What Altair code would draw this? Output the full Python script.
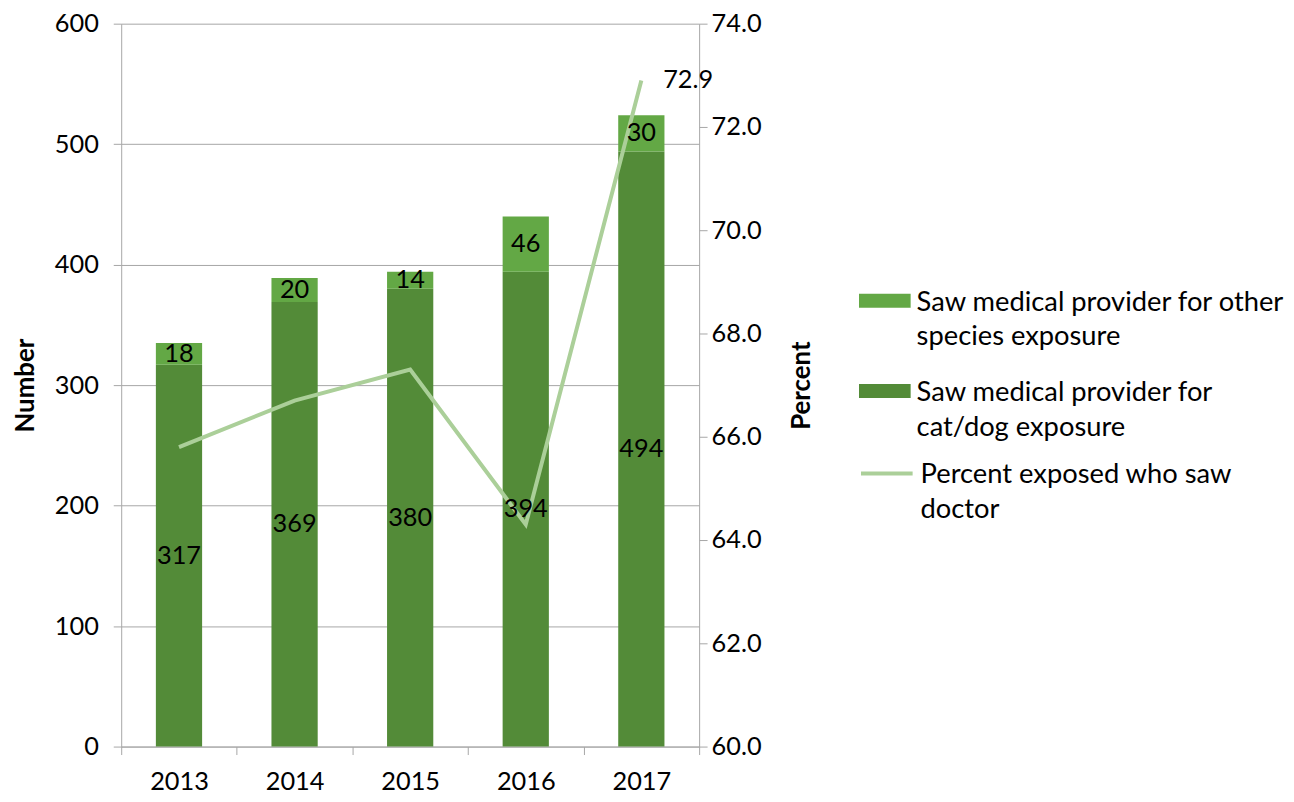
import altair as alt
import pandas as pd

years = ["2013", "2014", "2015", "2016", "2017"]
catdog = [317, 369, 380, 394, 494]
other = [18, 20, 14, 46, 30]
percent = [65.8, 66.7, 67.3, 64.3, 72.9]
pct_labels = ["", "", "", "", "72.9"]

S_OTHER = "Saw medical provider for other|species exposure"
S_CAT = "Saw medical provider for|cat/dog exposure"
S_LINE = "Percent exposed who saw|doctor"

DARK = "#538B38"
LIGHT = "#63A845"
LINEC = "#ABCF99"
GRID = "#A6A6A6"
FONT = "Lato"
FS = 25.5
LFS = 27.5
TFS = 26
SHIFT = 12  # vertical shift applied to guide labels (for legend alignment)

bars_df = pd.DataFrame({
    "year": years * 2,
    "series": [S_CAT] * 5 + [S_OTHER] * 5,
    "value": catdog + other,
    "ord": [0] * 5 + [1] * 5,
})
line_df = pd.DataFrame({"year": years, "pct": percent, "series": [S_LINE] * 5, "lab": pct_labels})

x = alt.X(
    "year:N",
    scale=alt.Scale(paddingInner=0, paddingOuter=0),
    axis=alt.Axis(title=None, labelAngle=0, tickBand="extent", tickSize=8, labelPadding=15 + SHIFT,
                  domainColor=GRID, tickColor=GRID, labelFont=FONT, labelFontSize=FS,
                  labelColor="black", grid=False),
)

base_bar = (
    alt.Chart(bars_df)
    .transform_stack(stack="value", groupby=["year"], as_=["v0", "v1"],
                     sort=[alt.SortField("ord", order="ascending")])
    .transform_calculate(mid="(datum.v0 + datum.v1) / 2")
)

bars = base_bar.mark_bar(width=alt.RelativeBandSize(0.4)).encode(
    x=x,
    y=alt.Y("v0:Q", scale=alt.Scale(domain=[0, 600], nice=False),
            axis=alt.Axis(title="Number", orient="left", values=[0, 100, 200, 300, 400, 500, 600],
                          grid=True, gridColor=GRID, domainColor=GRID, tickColor=GRID, tickSize=8,
                          labelPadding=15, labelOffset=SHIFT, labelFont=FONT, labelFontSize=FS,
                          labelColor="black",
                          titleFont=FONT, titleFontSize=TFS, titleFontWeight="bold",
                          titleColor="black", titlePadding=16)),
    y2="v1:Q",
    fill=alt.Fill("series:N", scale=alt.Scale(domain=[S_OTHER, S_CAT], range=[LIGHT, DARK]),
                  legend=alt.Legend(title=None, orient="none", legendX=743, legendY=253,
                                    symbolType="M-1,-0.27H1V0.27H-1Z", symbolSize=2704,
                                    symbolStrokeWidth=0, labelFont=FONT, labelFontSize=LFS,
                                    labelColor="black", labelLimit=500, labelOffset=6,
                                    labelBaseline="top",
                                    labelExpr="split(datum.label, '|')", rowPadding=14,
                                    padding=0)),
    order=alt.Order("ord:Q"),
)

line = alt.Chart(line_df).mark_line(strokeWidth=4).encode(
    x=x,
    y=alt.Y("pct:Q", scale=alt.Scale(domain=[60, 74], nice=False, zero=False),
            axis=alt.Axis(title="Percent", orient="right", format=".1f",
                          values=[60, 62, 64, 66, 68, 70, 72, 74], grid=False,
                          domainColor=GRID, tickColor=GRID, tickSize=8, labelPadding=4,
                          labelOffset=SHIFT,
                          labelFont=FONT, labelFontSize=FS, labelColor="black",
                          titleFont=FONT, titleFontSize=TFS, titleFontWeight="bold",
                          titleColor="black", titleAngle=270, titlePadding=54)),
    stroke=alt.Stroke("series:N", scale=alt.Scale(domain=[S_LINE], range=[LINEC]),
                      legend=alt.Legend(title=None, orient="none", legendX=743, legendY=425,
                                        symbolType="stroke", symbolSize=2704,
                                        symbolStrokeWidth=4, labelFont=FONT, labelFontSize=LFS,
                                        labelColor="black", labelLimit=500, labelOffset=6,
                                        labelBaseline="top",
                                        labelExpr="split(datum.label, '|')", padding=0)),
)

bar_text = base_bar.mark_text(font=FONT, fontSize=FS, color="black").encode(
    x=x,
    y=alt.Y("mid:Q", scale=alt.Scale(domain=[0, 600], nice=False), axis=None),
    text="value:Q",
)

line_text = alt.Chart(line_df).mark_text(font=FONT, fontSize=FS, color="black",
                                         align="left", dx=22).encode(
    x=x,
    y=alt.Y("pct:Q", scale=alt.Scale(domain=[60, 74], nice=False, zero=False), axis=None),
    text="lab:N",
)

chart = (
    alt.layer(bars, line, bar_text, line_text)
    .resolve_scale(y="independent")
    .properties(width=582, height=728, padding={"left": 4, "top": 1, "right": 0, "bottom": 0})
    .configure(style={"guide-label": {"lineHeight": 35, "dy": -SHIFT}},
               view=alt.ViewConfig(strokeWidth=0))
)

chart.save("out.html", embed_options={"renderer": "svg", "actions": False})
